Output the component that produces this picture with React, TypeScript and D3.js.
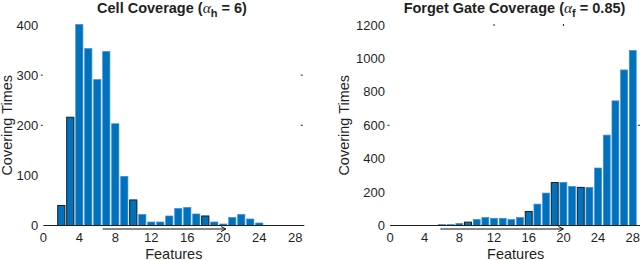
import * as d3 from "d3";

// feature index 1..28
const features = d3.range(1, 29);

const cellCoverage = [
  0, 40, 216, 401, 353, 291, 347, 203, 98, 51, 22, 7, 7, 19, 34, 36, 23, 19, 7,
  3, 16, 22, 13, 5, 0, 0, 0, 0,
];
const forgetCoverage = [
  0, 0, 0, 0, 0, 6, 6, 12, 20, 36, 48, 43, 43, 36, 48, 84, 128, 194, 257, 258,
  234, 228, 228, 344, 541, 746, 931, 1047,
];

// bars drawn with a dark edge in the original
const cellOutlined = [2, 3, 10, 18];
const forgetOutlined = [9, 16, 19, 22];

const xTicks = [0, 4, 8, 12, 16, 20, 24, 28];
const cellYTicks = [0, 100, 200, 300, 400];
const forgetYTicks = [0, 200, 400, 600, 800, 1000, 1200];

// arrow under the axis (feature units)
const cellArrow = [6.6, 20.3];
const forgetArrow = [5.8, 20.0];

// stray tick marks left by the plotting tool
const cellSideTicks = [200, 300];
const forgetSideTicks = [600];
const forgetTopTicks = [12, 20];

const FONT = "'Liberation Sans', Arial, Helvetica, sans-serif";
const BLUE = "#0072BD";
const INK = "#1f1f1f";

interface PanelProps {
  values: number[];
  outlined: number[];
  yTicks: number[];
  yMax: number;
  x0: number;
  x1: number;
  labelX: number;
  arrow: number[];
  sideTicks: number[];
  topTicks: number[];
  title: React.ReactNode;
  titleX: number;
}

function Panel(p: PanelProps) {
  const top = 25;
  const bottom = 225.5;
  const x = d3.scaleLinear().domain([0, 29]).range([p.x0, p.x1]);
  const y = d3.scaleLinear().domain([0, p.yMax]).range([bottom, top]);
  const bw = (x(1) - x(0)) * 0.8;
  const midX = (x(0) + x(29)) / 2;
  const ay = bottom + 3.5;

  return (
    <g fontFamily={FONT} fill={INK}>
      {/* title */}
      <text x={p.titleX} y={13} textAnchor="middle" fontSize={14.5} fontWeight="bold">
        {p.title}
      </text>

      {/* bars */}
      {features.map((f, i) => {
        const v = p.values[i];
        if (!v) return null;
        const outlined = p.outlined.includes(f);
        return (
          <rect
            key={f}
            x={x(f) - bw / 2}
            y={y(v)}
            width={bw}
            height={bottom - y(v)}
            fill={BLUE}
            stroke={outlined ? "#1a1a1a" : "#3d8fd1"}
            strokeWidth={outlined ? 1 : 0.7}
          />
        );
      })}

      {/* x axis */}
      <line x1={x(0)} x2={x(29)} y1={bottom} y2={bottom} stroke={INK} strokeWidth={1} />
      {xTicks.map((t) => (
        <text key={t} x={x(t)} y={242} textAnchor="middle" fontSize={13}>
          {t}
        </text>
      ))}
      <text x={midX} y={258.5} textAnchor="middle" fontSize={14.5}>
        Features
      </text>

      {/* y axis labels */}
      {p.yTicks.map((t) => (
        <text key={t} x={x(0) - 5} y={y(t) + 4.5} textAnchor="end" fontSize={13}>
          {t}
        </text>
      ))}
      <text
        transform={`translate(${p.labelX},${(top + bottom) / 2}) rotate(-90)`}
        textAnchor="middle"
        fontSize={14.5}
      >
        Covering Times
      </text>

      {/* stray ticks */}
      {p.sideTicks.map((t) => (
        <g key={t} stroke={INK} strokeWidth={1}>
          <line x1={x(0) - 2.5} x2={x(0) - 0.5} y1={y(t)} y2={y(t)} />
          <line x1={x(29) - 3.5} x2={x(29) - 1.5} y1={y(t)} y2={y(t)} />
        </g>
      ))}
      {p.topTicks.map((t) => (
        <line key={t} x1={x(t)} x2={x(t)} y1={top - 1} y2={top + 1} stroke={INK} />
      ))}

      {/* arrow */}
      <line
        x1={x(p.arrow[0])}
        x2={x(p.arrow[1]) - 1}
        y1={ay}
        y2={ay}
        stroke="#111"
        strokeWidth={1}
      />
      <path
        d={`M${x(p.arrow[1]) - 5},${ay - 2.5}L${x(p.arrow[1])},${ay}L${x(p.arrow[1]) - 5},${ay + 2.5}`}
        fill="none"
        stroke="#111"
        strokeWidth={1}
      />
    </g>
  );
}

export default function App() {
  return (
    <div style={{ position: "absolute", left: 0, top: 0 }}>
      <svg width={640} height={260} viewBox="0 0 640 260" style={{ display: "block", background: "#fff" }}>
        <Panel
          values={cellCoverage}
          outlined={cellOutlined}
          yTicks={cellYTicks}
          yMax={400}
          x0={43.3}
          x1={43.3 + 9 * 29}
          labelX={11.5}
          arrow={cellArrow}
          sideTicks={cellSideTicks}
          topTicks={[]}
          titleX={172}
          title={
            <>
              Cell Coverage (
              <tspan fontFamily="'Liberation Serif', serif" fontStyle="italic" fontWeight="normal" fontSize={15.5}>
                α
              </tspan>
              <tspan dy={3.5} fontSize={11}>h</tspan>
              <tspan dy={-3.5}> = 6)</tspan>
            </>
          }
        />
        <Panel
          values={forgetCoverage}
          outlined={forgetOutlined}
          yTicks={forgetYTicks}
          yMax={1200}
          x0={390}
          x1={390 + 8.67 * 29}
          labelX={349}
          arrow={forgetArrow}
          sideTicks={forgetSideTicks}
          topTicks={forgetTopTicks}
          titleX={514.5}
          title={
            <>
              Forget Gate Coverage (
              <tspan fontFamily="'Liberation Serif', serif" fontStyle="italic" fontWeight="normal" fontSize={15.5}>
                α
              </tspan>
              <tspan dy={3.5} fontSize={11}>f</tspan>
              <tspan dy={-3.5}> = 0.85)</tspan>
            </>
          }
        />
      </svg>
    </div>
  );
}
